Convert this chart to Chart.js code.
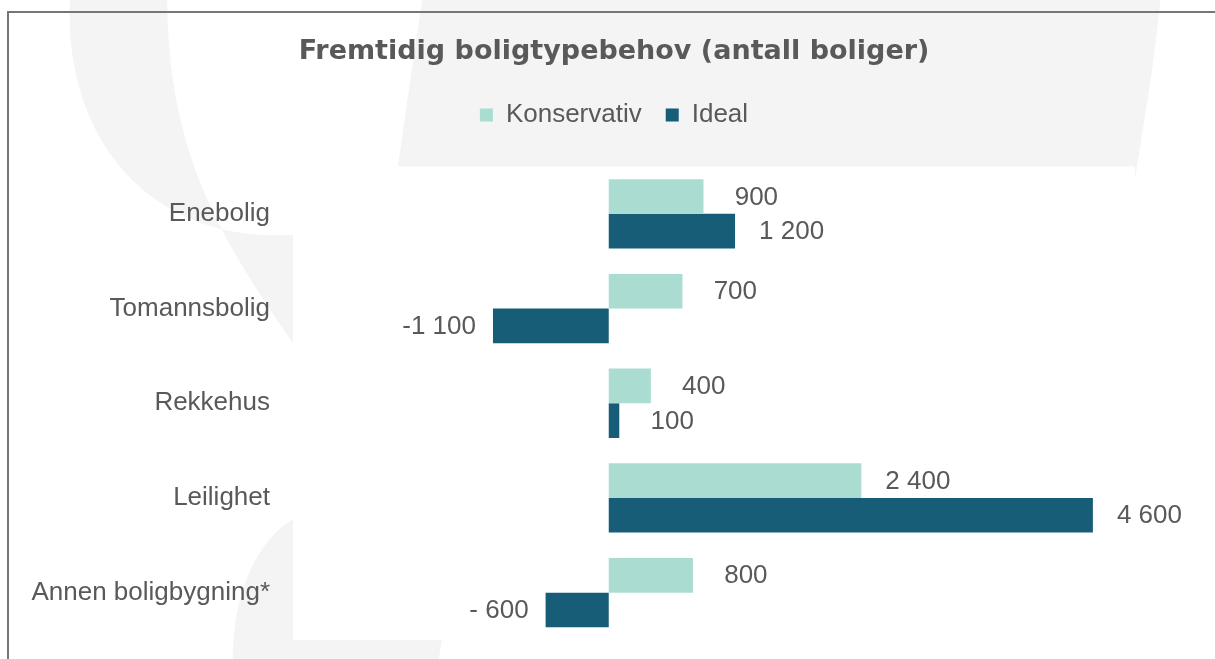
<!DOCTYPE html>
<html>
<head>
<meta charset="utf-8">
<title>Fremtidig boligtypebehov</title>
<script src="https://cdn.jsdelivr.net/npm/chart.js@4.4.1/dist/chart.umd.min.js"></script>
<style>
  html, body { margin: 0; padding: 0; background: #fff; overflow: hidden; }
  #chart { display: block; }
</style>
</head>
<body>
<canvas id="chart" width="1215" height="659"></canvas>
<script>
// data
var categories = ["Enebolig", "Tomannsbolig", "Rekkehus", "Leilighet", "Annen boligbygning*"];
var konservativ = [900, 700, 400, 2400, 800];
var ideal = [1200, -1100, 100, 4600, -600];
var seriesNames = ["Konservativ", "Ideal"];
var xMin = -3000, xMax = 5000;

var textColor = "#595959";
var labelFont = "'Liberation Sans', Arial, sans-serif";

// norsk tallformat: "1 200", " 900", "- 600"
function fmt(v) {
  var a = Math.abs(v);
  var s = a >= 1000 ? Math.floor(a / 1000) + " " + String(a % 1000).padStart(3, "0") : " " + a;
  return v < 0 ? "-" + s : s;
}

// faint logo in background + frame + white plot area
var backdrop = {
  id: "backdrop",
  beforeDraw: function(chart) {
    var ctx = chart.ctx, ca = chart.chartArea;
    ctx.save();
    ctx.fillStyle = "#fff";
    ctx.fillRect(0, 0, chart.width, chart.height);

    ctx.fillStyle = "#f4f4f4";
    ctx.beginPath();
    // outer ring
    ctx.moveTo(70, -5);
    ctx.bezierCurveTo(62, 140, 150, 235, 273, 235);
    ctx.lineTo(1128, 235);
    ctx.bezierCurveTo(1135, 165, 1152, 90, 1161, -5);
    ctx.closePath();
    // inner hole / tail
    ctx.moveTo(167, -5);
    ctx.bezierCurveTo(168, 150, 215, 230, 293, 343);
    ctx.lineTo(330, 400);
    ctx.lineTo(400, 400);
    ctx.lineTo(398, 166);
    ctx.quadraticCurveTo(410, 80, 423, -5);
    ctx.closePath();
    ctx.fill("evenodd");

    // lower shape
    ctx.beginPath();
    ctx.moveTo(233, 670);
    ctx.bezierCurveTo(230, 600, 255, 540, 295, 518);
    ctx.lineTo(340, 505);
    ctx.lineTo(447, 620);
    ctx.lineTo(442, 640);
    ctx.lineTo(437, 670);
    ctx.closePath();
    ctx.fill();

    // frame
    ctx.fillStyle = "#767676";
    ctx.fillRect(8, 11, chart.width - 8, 2);
    ctx.fillRect(7, 11, 2, chart.height - 11);

    // plot area
    ctx.fillStyle = "#fff";
    ctx.fillRect(ca.left, ca.top, ca.right - ca.left, ca.bottom - ca.top);
    ctx.restore();
  }
};

// value labels outside bar ends
var valueLabels = {
  id: "valueLabels",
  afterDatasetsDraw: function(chart) {
    var ctx = chart.ctx;
    ctx.save();
    ctx.font = "26px " + labelFont;
    ctx.fillStyle = textColor;
    ctx.textBaseline = "middle";
    chart.data.datasets.forEach(function(ds, di) {
      chart.getDatasetMeta(di).data.forEach(function(bar, i) {
        var v = ds.data[i];
        if (v >= 0) {
          ctx.textAlign = "left";
          ctx.fillText(fmt(v), bar.x + 24, bar.y + 1);
        } else {
          ctx.textAlign = "right";
          ctx.fillText(fmt(v), bar.x - 17, bar.y + 1);
        }
      });
    });
    ctx.restore();
  }
};

new Chart(document.getElementById("chart"), {
  type: "bar",
  data: {
    labels: categories,
    datasets: [
      { label: seriesNames[0], data: konservativ, backgroundColor: "#aadcd2" },
      { label: seriesNames[1], data: ideal, backgroundColor: "#175d78" }
    ]
  },
  options: {
    indexAxis: "y",
    responsive: false,
    animation: false,
    devicePixelRatio: 1,
    categoryPercentage: 0.732,
    barPercentage: 1,
    layout: { padding: { left: 93, right: 80, top: 0, bottom: 19 } },
    scales: {
      x: {
        position: "top",
        min: xMin,
        max: xMax,
        grid: { display: false, drawTicks: false },
        border: { display: false },
        ticks: { display: false },
        afterFit: function(s) { s.height = 28.5; }
      },
      y: {
        grid: { display: false, drawTicks: false },
        border: { display: false },
        ticks: { color: textColor, padding: 23, font: { size: 26, family: labelFont } },
        afterFit: function(s) {
          s.width = 200;
          s.paddingTop = 0;
          s.paddingBottom = 0;
          // long labels reach past the axis box, don't clip them
          s._computeLabelArea = function() {};
        }
      }
    },
    plugins: {
      title: {
        display: true,
        text: "Fremtidig boligtypebehov (antall boliger)",
        color: textColor,
        font: { size: 27, weight: "bold", family: "'DejaVu Sans', sans-serif" },
        padding: { top: 36, bottom: 9.6 }
      },
      legend: {
        labels: {
          color: textColor,
          font: { size: 26, family: labelFont },
          boxWidth: 13,
          boxHeight: 13,
          padding: 24
        }
      },
      tooltip: { enabled: false }
    }
  },
  plugins: [backdrop, valueLabels]
});
</script>
</body>
</html>
